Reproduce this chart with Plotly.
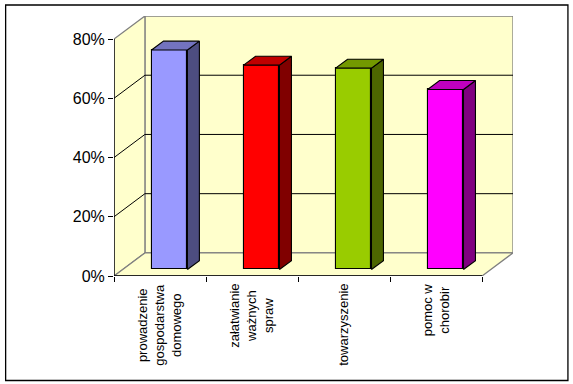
import plotly.graph_objects as go

categories = ["prowadzenie<br>gospodarstwa<br>domowego", "załatwianie<br>ważnych<br>spraw",
              "towarzyszenie", "pomoc w<br>chorobir"]
values = [74.1, 69.0, 68.0, 60.8]
front_colors = ["#9999FF", "#FF0000", "#99CC00", "#FF00FF"]
side_colors = ["#4D4D80", "#800000", "#4D6600", "#800080"]
top_colors = ["#7373BF", "#C00000", "#739900", "#BF00BF"]
y_ticks = [0, 20, 40, 60, 80]
y_tick_labels = ["0%", "20%", "40%", "60%", "80%"]

# Oblique 3D projection, in axis units
DX, DY = 0.336, 7.8          # wall depth offset
BAR_W = 0.39
BAR_DX, BAR_DY = 0.13, 3.0   # bar depth
GAP_DX, GAP_DY = 0.103, 2.2  # front gap from floor edge to bar face
N = len(categories)
WALL = "#FFFFCC"
GREY = "#808080"
EDGE = 1.1

W, H = 573, 384
L, R, T, B = 113.5, 60, 16, 108
pw, ph = W - L - R, H - T - B


def poly(xs, ys, fill, line, width=1, layer="below"):
    path = "M " + " L ".join(f"{x},{y}" for x, y in zip(xs, ys)) + " Z"
    return dict(type="path", path=path, xref="x", yref="y", fillcolor=fill,
                line=dict(color=line, width=width), layer=layer)


def seg(x0, y0, x1, y1, color, width=1):
    return dict(type="line", x0=x0, y0=y0, x1=x1, y1=y1, xref="x", yref="y",
                line=dict(color=color, width=width), layer="below")


top = y_ticks[-1]
shapes = [
    # outer frame
    dict(type="rect", xref="paper", yref="paper",
         x0=(5 - L) / pw, x1=(568 - L) / pw, y0=(H - B - 380.5) / ph, y1=(H - B - 5) / ph,
         line=dict(color="black", width=1.3), fillcolor="white", layer="below"),
    poly([DX, N + DX, N + DX, DX], [DY, DY, top + DY, top + DY], WALL, GREY, 1.3),
    poly([0, DX, DX, 0], [0, DY, top + DY, top], WALL, GREY, 1.3),
    poly([0, N, N + DX, DX], [0, 0, DY, DY], WALL, GREY, 1.3),
]
for t in y_ticks[1:-1]:
    shapes.append(seg(0, t, DX, t + DY, "black"))
    shapes.append(seg(DX, t + DY, N + DX, t + DY, "black"))
shapes.append(seg(0, 0, 0, top, "black", 1.3))
shapes.append(seg(0, 0, N, 0, "black", 1.3))

fig = go.Figure()
xs = [i + 0.5 + GAP_DX for i in range(N)]
fig.add_trace(go.Bar(x=xs, y=values, base=GAP_DY, width=BAR_W, marker=dict(
    color=front_colors, line=dict(color="black", width=EDGE)), showlegend=False))

for x, v, sc, tc in zip(xs, values, side_colors, top_colors):
    xl, xr = x - BAR_W / 2, x + BAR_W / 2
    yb, yt = GAP_DY, GAP_DY + v
    fig.add_trace(go.Scatter(
        x=[xr, xr + BAR_DX, xr + BAR_DX, xr, xr],
        y=[yb, yb + BAR_DY, yt + BAR_DY, yt, yb],
        mode="lines", fill="toself", fillcolor=sc,
        line=dict(color="black", width=EDGE), showlegend=False))
    fig.add_trace(go.Scatter(
        x=[xl, xr, xr + BAR_DX, xl + BAR_DX, xl],
        y=[yt, yt, yt + BAR_DY, yt + BAR_DY, yt],
        mode="lines", fill="toself", fillcolor=tc,
        line=dict(color="black", width=EDGE), showlegend=False))

annotations = [dict(x=i + 0.5, y=-0.022, xref="x", yref="paper", text=c, textangle=-90,
                    showarrow=False, xanchor="center", yanchor="top", align="center",
                    font=dict(family="Liberation Sans, Arial", size=13, color="black"))
               for i, c in enumerate(categories)]

fig.update_layout(
    width=W, height=H, autosize=False, bargap=0,
    margin=dict(l=L, r=R, t=T, b=B, pad=0),
    paper_bgcolor="white", plot_bgcolor="rgba(0,0,0,0)",
    shapes=shapes, annotations=annotations,
    xaxis=dict(range=[0, N + DX], tickmode="array", tickvals=list(range(N + 1)),
               showticklabels=False, ticks="outside", ticklen=5, tickwidth=1.3, tickcolor="black",
               showgrid=False, zeroline=False, showline=False),
    yaxis=dict(range=[0, top + DY], tickmode="array", tickvals=y_ticks, ticktext=y_tick_labels,
               ticks="outside", ticklen=5, tickwidth=1.3, tickcolor="black",
               tickfont=dict(family="Liberation Sans, Arial", size=16, color="black"),
               showgrid=False, zeroline=False, showline=False),
)
fig.write_html("out.html", post_script="document.body.style.margin='0';", config={"displayModeBar": False})
